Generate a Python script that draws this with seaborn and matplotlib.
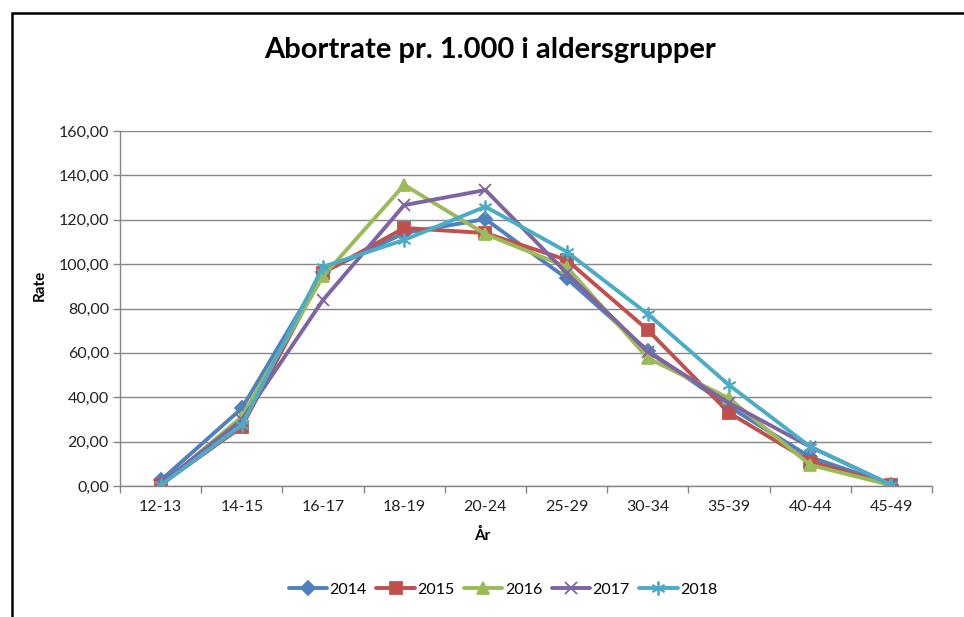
import matplotlib
matplotlib.use('Agg')
import matplotlib.pyplot as plt
import numpy as np
import pandas as pd
import seaborn as sns
from matplotlib.patches import Rectangle
from matplotlib.ticker import FuncFormatter, FixedLocator

sns.set_style('white')
plt.rcParams['font.family'] = ['Lato', 'DejaVu Sans']
plt.rcParams['text.color'] = 'black'

# age groups and abortion rate per 1000
age_groups = ['12-13', '14-15', '16-17', '18-19', '20-24', '25-29', '30-34', '35-39', '40-44', '45-49']
years = ['2014', '2015', '2016', '2017', '2018']
rate_2014 = [2.5, 35.0, 96.5, 114.0, 120.3, 93.6, 61.0, 35.8, 13.0, 0.6]
rate_2015 = [0.6, 26.7, 96.0, 116.3, 114.0, 101.9, 70.3, 33.0, 11.0, 0.6]
rate_2016 = [0.2, 31.2, 94.5, 135.7, 113.5, 98.8, 57.7, 39.5, 9.5, 0.3]
rate_2017 = [1.0, 29.7, 83.8, 126.6, 133.4, 96.0, 60.5, 37.4, 17.7, 0.5]
rate_2018 = [0.3, 27.5, 98.8, 110.9, 125.9, 105.6, 77.5, 45.5, 17.7, 0.4]

colors = ['#4F81BD', '#C0504D', '#9BBB59', '#8064A2', '#4BACC6']
markers = ['D', 's', '^', 'x', (6, 2, 0)]
sizes = [7, 8, 8, 9, 10]

fig = plt.figure(figsize=(9.64, 6.17), dpi=100)
ax = fig.add_axes([120 / 964, 1 - 486 / 617, (932 - 120) / 964, (486 - 131) / 617])

for yr, vals, c, m, ms in zip(years, [rate_2014, rate_2015, rate_2016, rate_2017, rate_2018],
                              colors, markers, sizes):
    df = pd.DataFrame({'pos': range(len(age_groups)), 'rate': vals})
    sns.lineplot(data=df, x='pos', y='rate', color=c, marker=m, markersize=ms,
                 markeredgecolor=c, markeredgewidth=1.3, linewidth=2.8,
                 label=yr, ax=ax)

ax.set_xlim(-0.5, 9.5)
ax.set_ylim(0, 160)
ax.set_yticks(np.arange(0, 161, 20))
ax.yaxis.set_major_formatter(FuncFormatter(lambda v, p: ('%.2f' % v).replace('.', ',')))
ax.set_xticks(range(len(age_groups)))
ax.set_xticklabels(age_groups)
ax.xaxis.set_minor_locator(FixedLocator(np.arange(-0.5, 10, 1)))
ax.tick_params(axis='x', which='major', length=0, pad=10, labelsize=11.5, colors='#222222')
ax.tick_params(axis='x', which='minor', length=5, color='#868686', width=1, bottom=True)
ax.tick_params(axis='y', length=5, color='#868686', width=1, labelsize=11.5, colors='#222222',
               pad=3, left=True)

ax.grid(True, axis='y', color='#868686', linewidth=1)
ax.set_axisbelow(True)
for side in ['top', 'right']:
    ax.spines[side].set_visible(False)
for side in ['left', 'bottom']:
    ax.spines[side].set_color('#868686')
    ax.spines[side].set_linewidth(1)

ax.set_xlabel('')
ax.set_ylabel('')
fig.text(40 / 964, 1 - 285 / 617, 'Rate', rotation=90, ha='center', va='center',
         fontsize=11, fontweight='bold')
fig.text(482 / 964, 1 - 535 / 617, 'År', ha='center', va='center',
         fontsize=11, fontweight='bold')

fig.text(490 / 964, 1 - 50 / 617, 'Abortrate pr. 1.000 i aldersgrupper',
         ha='center', va='center', fontsize=21, fontweight='bold')

handles, labels = ax.get_legend_handles_labels()
ax.legend_.remove()
fig.legend(handles, labels, loc='center', bbox_to_anchor=(503 / 964, 1 - 590 / 617),
           ncol=5, frameon=False, fontsize=11.5, handlelength=2.4, columnspacing=0.6,
           handletextpad=0.15)

# chart frame (extends past the right and bottom edges)
fig.patches.append(Rectangle((12 / 964, -0.1), 1.2, 1 - 13 / 617 + 0.1,
                             transform=fig.transFigure, fill=False,
                             edgecolor='black', linewidth=1.8, zorder=0))

fig.savefig('out.png', dpi=100)
